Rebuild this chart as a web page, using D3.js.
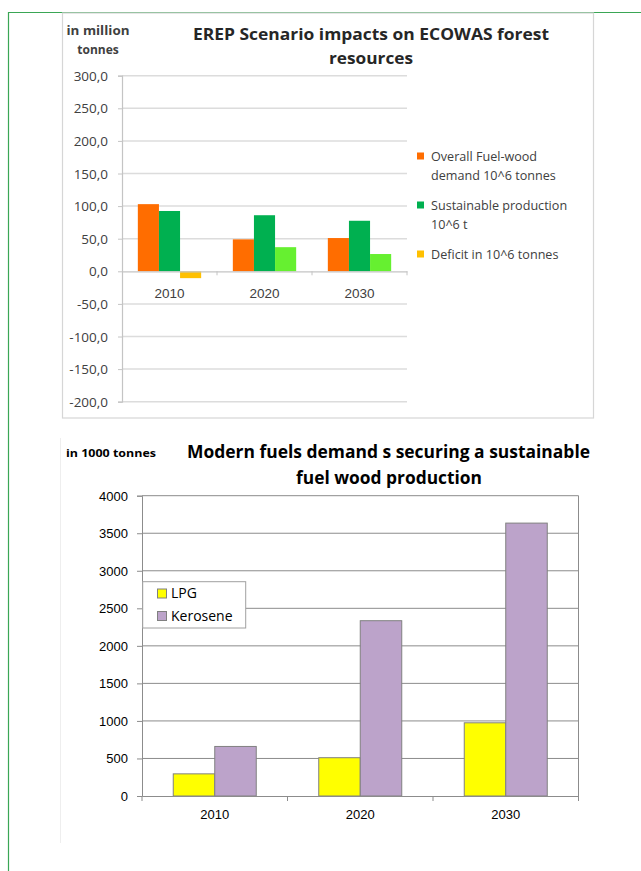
<!DOCTYPE html>
<html>
<head>
<meta charset="utf-8">
<script src="https://cdn.jsdelivr.net/npm/d3@7/dist/d3.min.js"></script>
<style>
  html, body { margin: 0; padding: 0; background: #fff; }
  svg { display: block; font-family: "Open Sans", "Liberation Sans", sans-serif; }
</style>
</head>
<body>
<svg id="chart" width="641" height="871"></svg>
<script>
// ---------- DATA ----------
const categories = ["2010", "2020", "2030"];

// Top chart (million tonnes)
const topSeriesNames = ["Overall Fuel-wood demand 10^6 tonnes", "Sustainable production 10^6 t", "Deficit in 10^6 tonnes"];
const fuelwoodDemand = [103, 49, 51];
const sustainableProduction = [92.5, 86, 77.5];
const deficit = [-10.5, 37, 26.5];
const topTicks = [300, 250, 200, 150, 100, 50, 0, -50, -100, -150, -200];

// Bottom chart (1000 tonnes)
const bottomSeriesNames = ["LPG", "Kerosene"];
const lpg = [295, 510, 975];
const kerosene = [660, 2335, 3635];
const bottomTicks = [0, 500, 1000, 1500, 2000, 2500, 3000, 3500, 4000];

// ---------- DRAW ----------
const svg = d3.select("#chart");
const green = "#3aa655";

// Panels
svg.append("line").attr("x1", 8).attr("x2", 641).attr("y1", 12.5).attr("y2", 12.5).attr("stroke", green).attr("stroke-width", 1.2);
svg.append("line").attr("x1", 8.5).attr("x2", 8.5).attr("y1", 12).attr("y2", 871).attr("stroke", green).attr("stroke-width", 1.2);
svg.append("rect").attr("x", 62.5).attr("y", 13).attr("width", 531).attr("height", 405)
  .attr("fill", "#fff").attr("stroke", "#d6d6d6").attr("stroke-width", 1.2);
svg.append("line").attr("x1", 60.5).attr("x2", 60.5).attr("y1", 438).attr("y2", 843).attr("stroke", "#eeeeee");

// ===== TOP CHART =====
const topColors = ["#ff6d00", "#00b050", "#66f030"];
const deficitNegColor = "#ffc000";
const yT = d3.scaleLinear().domain([-200, 300]).range([401.7, 75.7]);
const xT0 = d3.scaleBand().domain(categories).range([122, 407]).padding(0);
const xT1 = d3.scaleBand().domain([0, 1, 2]).range([0, xT0.bandwidth()]).paddingInner(0).paddingOuter(0.75);
const topG = svg.append("g");

// gridlines
topG.selectAll("line.grid").data(topTicks.filter(d => d !== 0)).enter().append("line")
  .attr("x1", 122).attr("x2", 407).attr("y1", d => yT(d)).attr("y2", d => yT(d))
  .attr("stroke", "#dcdcdc").attr("stroke-width", 1.5);

// y axis
const yAxisTop = d3.axisLeft(yT).tickValues(topTicks).tickSize(4)
  .tickFormat(d => d3.format(".1f")(d).replace(".", ",").replace("\u2212", "-"));
const yAxG = topG.append("g").attr("transform", "translate(122,0)").call(yAxisTop);
yAxG.select(".domain").attr("stroke", "#c4c4c4").attr("stroke-width", 1.2);
yAxG.selectAll(".tick line").attr("stroke", "#c4c4c4");
yAxG.selectAll(".tick text").attr("fill", "#404040").style("font-size", "13.5px").attr("x", -14).attr("dy", "0.34em")
  .style("font-family", "'Open Sans', sans-serif");

// bars
const topData = categories.map((c, i) => ({ c, vals: [fuelwoodDemand[i], sustainableProduction[i], deficit[i]] }));
const topGroups = topG.selectAll("g.grp").data(topData).enter().append("g")
  .attr("transform", d => `translate(${xT0(d.c)},0)`);
topGroups.selectAll("rect").data(d => d.vals.map((v, k) => ({ v, k }))).enter().append("rect")
  .attr("x", d => xT1(d.k)).attr("width", xT1.bandwidth())
  .attr("y", d => yT(Math.max(0, d.v))).attr("height", d => Math.abs(yT(d.v) - yT(0)))
  .attr("fill", d => (d.k === 2 && d.v < 0) ? deficitNegColor : topColors[d.k]);

// zero axis with category ticks
const xAxisTop = d3.axisBottom(xT0).tickSize(0).tickPadding(0);
const xAxG = topG.append("g").attr("transform", `translate(0,${yT(0)})`).call(xAxisTop);
xAxG.select(".domain").attr("stroke", "#c4c4c4").attr("stroke-width", 1.2);
xAxG.selectAll(".tick text").attr("fill", "#404040").style("font-size", "13.5px").attr("y", 22).attr("dy", "0.34em");
topG.selectAll("line.ctick").data(categories.slice(1).concat(["end"])).enter().append("line")
  .attr("x1", (d, i) => xT0.range()[0] + xT0.step() * (i + 1)).attr("x2", (d, i) => xT0.range()[0] + xT0.step() * (i + 1))
  .attr("y1", yT(0)).attr("y2", yT(0) + 4).attr("stroke", "#c4c4c4");

// titles
topG.append("text").attr("x", 98).attr("y", 35).attr("text-anchor", "middle").attr("fill", "#404040")
  .style("font-size", "12px").style("font-weight", "bold")
  .attr("textLength", 63).attr("lengthAdjust", "spacingAndGlyphs").text("in million");
topG.append("text").attr("x", 98).attr("y", 54).attr("text-anchor", "middle").attr("fill", "#404040")
  .style("font-size", "12px").style("font-weight", "bold").text("tonnes");
topG.append("text").attr("x", 371).attr("y", 40).attr("text-anchor", "middle").attr("fill", "#262626")
  .style("font-size", "16.5px").style("font-weight", "bold")
  .attr("textLength", 356).attr("lengthAdjust", "spacingAndGlyphs").text("EREP Scenario impacts on ECOWAS forest");
topG.append("text").attr("x", 371).attr("y", 64).attr("text-anchor", "middle").attr("fill", "#262626")
  .style("font-size", "16.5px").style("font-weight", "bold")
  .attr("textLength", 84).attr("lengthAdjust", "spacingAndGlyphs").text("resources");

// legend
const topLegendLines = [["Overall Fuel-wood", "demand 10^6 tonnes"], ["Sustainable production", "10^6 t"], ["Deficit in 10^6 tonnes"]];
const topLegendY = [161, 210, 259];
const tl = topG.selectAll("g.leg").data(topSeriesNames).enter().append("g")
  .attr("transform", (d, i) => `translate(0,${topLegendY[i]})`);
tl.append("rect").attr("x", 417).attr("y", -8.5).attr("width", 7).attr("height", 7)
  .attr("fill", (d, i) => i === 2 ? deficitNegColor : topColors[i]);
tl.each(function (d, i) {
  const t = d3.select(this).append("text").attr("x", 431).attr("y", 0).attr("fill", "#404040").style("font-size", "12.6px");
  topLegendLines[i].forEach((ln, j) => t.append("tspan").attr("x", 431).attr("dy", j === 0 ? 0 : 19).text(ln));
});

// ===== BOTTOM CHART =====
const botColors = ["#ffff00", "#bca3ca"];
const yB = d3.scaleLinear().domain([0, 4000]).range([796, 495.7]);
const xB0 = d3.scaleBand().domain(categories).range([142, 578.5]).padding(0);
const xB1 = d3.scaleBand().domain([0, 1]).range([0, xB0.bandwidth()]).paddingInner(0).paddingOuter(0.753);
const botG = svg.append("g");

botG.selectAll("line.grid").data(bottomTicks.filter(d => d !== 0)).enter().append("line")
  .attr("x1", 142).attr("x2", 578.5).attr("y1", d => yB(d)).attr("y2", d => yB(d))
  .attr("stroke", "#8c8c8c").attr("stroke-width", 1);
botG.append("line").attr("x1", 578.5).attr("x2", 578.5).attr("y1", yB(4000)).attr("y2", yB(0)).attr("stroke", "#8c8c8c");

const yAxisBot = d3.axisLeft(yB).tickValues(bottomTicks).tickSize(5).tickFormat(d3.format("d"));
const yBG = botG.append("g").attr("transform", "translate(142,0)").call(yAxisBot);
yBG.select(".domain").attr("stroke", "#8c8c8c");
yBG.selectAll(".tick line").attr("stroke", "#8c8c8c");
yBG.selectAll(".tick text").attr("fill", "#000").style("font-size", "13px").attr("x", -14).attr("dy", "0.34em");

const botData = categories.map((c, i) => ({ c, vals: [lpg[i], kerosene[i]] }));
const botGroups = botG.selectAll("g.grp").data(botData).enter().append("g")
  .attr("transform", d => `translate(${xB0(d.c)},0)`);
botGroups.selectAll("rect").data(d => d.vals.map((v, k) => ({ v, k }))).enter().append("rect")
  .attr("x", d => xB1(d.k)).attr("width", xB1.bandwidth())
  .attr("y", d => yB(d.v)).attr("height", d => yB(0) - yB(d.v))
  .attr("fill", d => botColors[d.k]).attr("stroke", "#808080").attr("stroke-width", 1);

const xAxisBot = d3.axisBottom(xB0).tickSize(0).tickPadding(0);
const xBG = botG.append("g").attr("transform", `translate(0,${yB(0)})`).call(xAxisBot);
xBG.select(".domain").attr("stroke", "#8c8c8c");
xBG.selectAll(".tick text").attr("fill", "#000").style("font-size", "13px").attr("y", 19).attr("dy", "0.34em");
botG.selectAll("line.ctick").data([0, 1, 2, 3]).enter().append("line")
  .attr("x1", d => xB0.range()[0] + xB0.step() * d).attr("x2", d => xB0.range()[0] + xB0.step() * d)
  .attr("y1", yB(0)).attr("y2", yB(0) + 5).attr("stroke", "#8c8c8c");

// titles
botG.append("text").attr("x", 66).attr("y", 457).attr("fill", "#000")
  .style("font-size", "11px").style("font-weight", "bold")
  .attr("textLength", 90).attr("lengthAdjust", "spacingAndGlyphs").text("in 1000 tonnes");
botG.append("text").attr("x", 388.5).attr("y", 458).attr("text-anchor", "middle").attr("fill", "#000")
  .style("font-size", "17px").style("font-weight", "bold")
  .attr("textLength", 403).attr("lengthAdjust", "spacingAndGlyphs").text("Modern fuels demand s securing a sustainable");
botG.append("text").attr("x", 389).attr("y", 484).attr("text-anchor", "middle").attr("fill", "#000")
  .style("font-size", "17px").style("font-weight", "bold")
  .attr("textLength", 186).attr("lengthAdjust", "spacingAndGlyphs").text("fuel wood production");

// legend
const lg = botG.append("g");
lg.append("rect").attr("x", 142.7).attr("y", 581.7).attr("width", 103).attr("height", 46.3)
  .attr("fill", "#fff").attr("stroke", "#a0a0a0");
const legY = [598, 620.5];
const li = lg.selectAll("g.it").data(bottomSeriesNames).enter().append("g")
  .attr("transform", (d, i) => `translate(0,${legY[i]})`);
li.append("rect").attr("x", 157.5).attr("y", -9).attr("width", 9).attr("height", 9)
  .attr("fill", (d, i) => botColors[i]).attr("stroke", "#808080");
li.append("text").attr("x", 171).attr("y", 0).attr("fill", "#000").style("font-size", "14px").text(d => d);
</script>
</body>
</html>
